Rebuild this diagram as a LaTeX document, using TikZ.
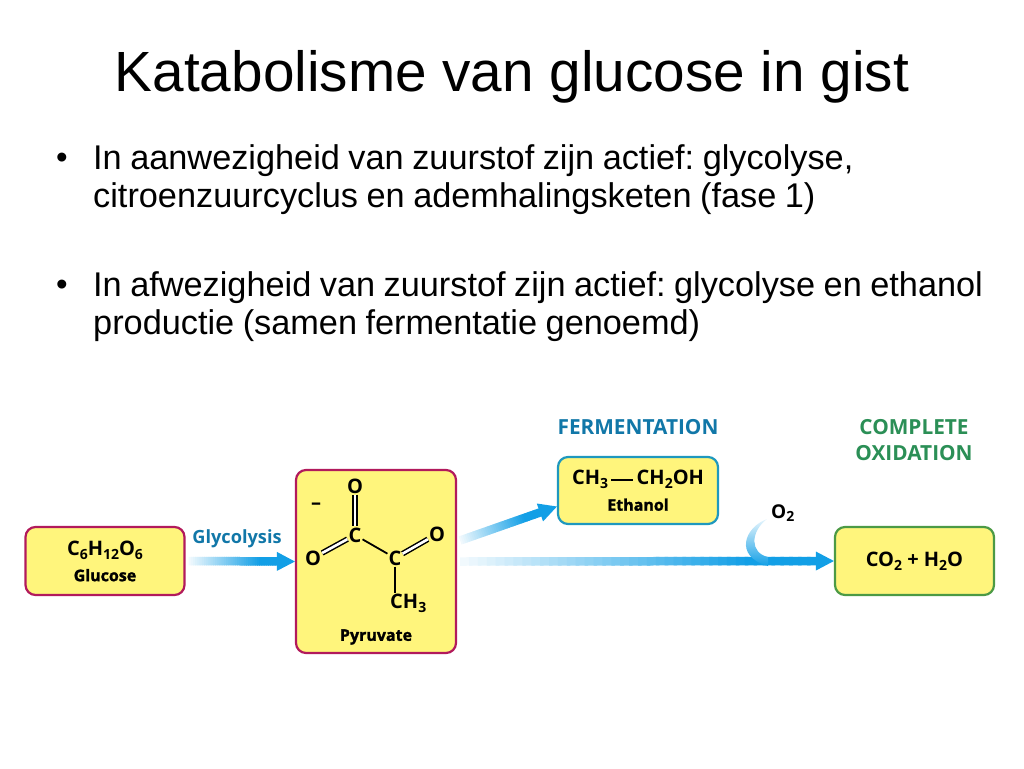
\documentclass[tikz,border=0pt]{standalone}
\usepackage{fontspec}
\setmainfont{Liberation Sans}
\newfontfamily\chemfont{Open Sans}
\newfontfamily\heavyfont[BoldFeatures={FakeBold=1.6}]{Open Sans}
\usetikzlibrary{calc}
\definecolor{boxyellow}{HTML}{FFF57C}
\definecolor{boxred}{HTML}{B21A5C}
\definecolor{boxcyan}{HTML}{1F98BE}
\definecolor{boxgreen}{HTML}{4C9A45}
\definecolor{flowblue}{HTML}{129FE6}
\definecolor{labelblue}{HTML}{1177A8}
\definecolor{labelgreen}{HTML}{2B8F56}
\newcommand{\chemsub}[1]{\raisebox{-0.35ex}{\fontsize{14}{14}\selectfont #1}}
\newcommand{\flowarrow}[2]{%
\coordinate (neck) at ($(#2)!18pt!(#1)$);
\foreach \t in {0,...,39}{
  \pgfmathsetmacro{\mixval}{min(100,6+118*\t/40)}
  \draw[line width=8.5pt,flowblue!\mixval] ($(#1)!\t/40!(neck)$) -- ($(#1)!\t/40+0.035!(neck)$);
}
\fill[flowblue] ($(neck)!9.5pt!90:(#2)$) -- (#2) -- ($(neck)!9.5pt!-90:(#2)$) -- cycle;
}
\tikzset{
  chembox/.style={draw=#1,line width=2.2pt,rounded corners=10pt,fill=boxyellow,anchor=center,inner sep=0pt,align=center,font=\chemfont\bfseries\fontsize{20}{22}\selectfont},
  bullettext/.style={anchor=north west,align=left,text width=925pt,inner sep=0pt,font=\frenchspacing\fontsize{34.3}{38.5}\selectfont,execute at begin node={\spaceskip=8.5pt\relax}},
  atom/.style={inner sep=1pt,font=\chemfont\bfseries\fontsize{20}{20}\selectfont},
  heading/.style={align=center,font=\chemfont\bfseries\fontsize{20.8}{26}\selectfont},
  bond/.style={line width=1.8pt},
  dbond/.style={line width=1.5pt,double,double distance=2.6pt}
}
\begin{document}
\begin{tikzpicture}[x=1pt,y=-1pt]
\useasboundingbox (0,0) rectangle (1024,768);
\node[font=\fontsize{56.7}{57}\selectfont] (title) at (512,77) {Katabolisme van glucose in gist};
\node[font=\fontsize{33}{33}\selectfont] (bul1) at (62,161) {•};
\node[font=\fontsize{33}{33}\selectfont] (bul2) at (62,288) {•};
\node[bullettext] (txt1) at (93,144) {In aanwezigheid van zuurstof zijn actief: glycolyse,\\citroenzuurcyclus en ademhalingsketen (fase 1)};
\node[bullettext] (txt2) at (93,271) {In afwezigheid van zuurstof zijn actief: glycolyse en ethanol\\productie (samen fermentatie genoemd)};
% boxes
\node[chembox=boxred,minimum width=159pt,minimum height=68pt] (glucose) at (105,561) {C\chemsub{6}H\chemsub{12}O\chemsub{6}\\[4pt]{\heavyfont\bfseries\fontsize{16}{18}\selectfont Glucose}};
\node[chembox=boxred,minimum width=160pt,minimum height=183pt] (pyruvate) at (376,561.5) {};
\node[chembox=boxcyan,minimum width=160pt,minimum height=67pt] (ethanol) at (638,490.5) {CH\chemsub{3}\,\rule[0.3ex]{22pt}{2.2pt}\,CH\chemsub{2}OH\\[4pt]{\heavyfont\bfseries\fontsize{16}{18}\selectfont Ethanol}};
\node[chembox=boxgreen,minimum width=159pt,minimum height=68pt] (co2) at (914.5,561) {CO\chemsub{2} + H\chemsub{2}O};
% pyruvate molecule
\node[atom] (otop) at (355,486) {O};
\node[atom] (c1) at (355,535) {C};
\node[atom] (oleft) at (313,558) {O};
\node[atom] (c2) at (395,558) {C};
\node[atom] (oright) at (437,534) {O};
\node[atom,anchor=north west] (ch3) at (389,593) {CH\chemsub{3}};
\node[atom] (minus) at (316,506) {–};
\node[atom,font=\heavyfont\bfseries\fontsize{16}{18}\selectfont] (pyrlabel) at (376,637) {Pyruvate};
\draw[dbond] (otop) -- (c1);
\draw[dbond] (c1) -- (oleft);
\draw[dbond] (c2) -- (oright);
\draw[bond] (c1) -- (c2);
\draw[bond] (c2) -- (c2 |- ch3.north);
% labels
\node[heading,text=labelblue,font=\chemfont\bfseries\fontsize{18.2}{20}\selectfont] (glylabel) at (237,539) {Glycolysis};
\node[heading,text=labelblue] (fermlabel) at (638,427) {FERMENTATION};
\node[heading,text=labelgreen] (oxlabel) at (914,440) {COMPLETE\\OXIDATION};
\node[atom,anchor=west,font=\chemfont\bfseries\fontsize{19}{19}\selectfont] (o2) at (770,513) {O\chemsub{2}};
% arrows
\coordinate (glystart) at ($(glucose.east)+(3,0)$);
\coordinate (fermstart) at ($(pyruvate.east)+(3,-21)$);
\coordinate (fermend) at ($(ethanol.west)+(0,16)$);
\coordinate (oxstart) at ($(pyruvate.east)+(3,0)$);
\flowarrow{glystart}{pyruvate.west}
\flowarrow{fermstart}{fermend}
\flowarrow{oxstart}{co2.west}
\shade[top color=flowblue!10,middle color=flowblue!80,bottom color=flowblue] ($(o2.west)+(-3,6)$) .. controls (745,527) and (733,556) .. (768,566) -- (768,557) .. controls (750,553) and (750,532) .. ($(o2.west)+(-3,6)$) -- cycle;
\end{tikzpicture}
\end{document}
